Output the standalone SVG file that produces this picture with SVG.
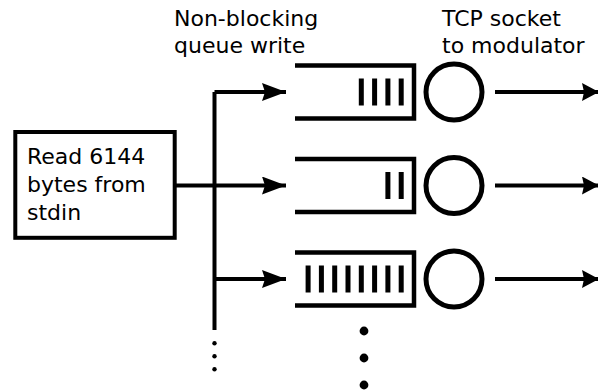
<svg xmlns="http://www.w3.org/2000/svg" width="598" height="392" viewBox="0 0 598 392">
  <style>
    .lbl { font-family: "DejaVu Sans", "Liberation Sans", sans-serif; font-size: 22px; fill: #000; }
    .box { fill: #fff; stroke: #000; stroke-width: 4; }
    .wire { fill: none; stroke: #000; stroke-width: 4; }
    .queue { fill: none; stroke: #000; stroke-width: 4.5; stroke-linejoin: miter; }
    .slot { fill: #000; }
    .sock { fill: #fff; stroke: #000; stroke-width: 5; }
    .dot { fill: #000; }
  </style>
  <defs>
    <marker id="head" markerUnits="userSpaceOnUse" markerWidth="26" markerHeight="20" refX="24" refY="9" orient="auto" viewBox="0 0 26 20">
      <path d="M0,0 L24,9 L0,18 L3,9 Z" fill="#000"/>
    </marker>
    <marker id="headOut" markerUnits="userSpaceOnUse" markerWidth="20" markerHeight="20" refX="17" refY="9" orient="auto" viewBox="0 0 20 20">
      <path d="M0,0 L17,9 L0,18 L2,9 Z" fill="#000"/>
    </marker>
  </defs>

  <!-- labels above the columns -->
  <g id="label-queue">
    <text class="lbl" x="174" y="26">Non-blocking</text>
    <text class="lbl" x="174" y="53">queue write</text>
  </g>
  <g id="label-socket">
    <text class="lbl" x="442" y="26">TCP socket</text>
    <text class="lbl" x="442" y="53">to modulator</text>
  </g>

  <!-- reader -->
  <g id="reader">
    <rect class="box" x="15.3" y="132" width="159.4" height="105.8"/>
    <text class="lbl" x="27" y="163.5">Read 6144</text>
    <text class="lbl" x="27" y="191.5">bytes from</text>
    <text class="lbl" x="27" y="219.5">stdin</text>
  </g>

  <!-- connectors -->
  <g id="connectors">
    <path class="wire" d="M174.7,185.5 H214.5"/>
    <path class="wire" d="M214.5,92 V330"/>
    <path class="wire" d="M214.5,92 H286" marker-end="url(#head)"/>
    <path class="wire" d="M214.5,185.5 H286" marker-end="url(#head)"/>
    <path class="wire" d="M214.5,279 H286" marker-end="url(#head)"/>
    <path class="wire" d="M495,92 H599" marker-end="url(#headOut)"/>
    <path class="wire" d="M495,185.5 H599" marker-end="url(#headOut)"/>
    <path class="wire" d="M495,279 H599" marker-end="url(#headOut)"/>
    <circle class="dot" cx="214.5" cy="343.3" r="2.2"/>
    <circle class="dot" cx="214.5" cy="356.3" r="2.2"/>
    <circle class="dot" cx="214.5" cy="369.3" r="2.2"/>
  </g>

  <!-- queue 1 with socket -->
  <g id="queue-1">
    <path class="queue" d="M295,65.5 H414 V118.5 H295"/>
    <rect class="slot" x="358.8" y="78.5" width="5" height="27"/>
    <rect class="slot" x="372.1" y="78.5" width="5" height="27"/>
    <rect class="slot" x="385.4" y="78.5" width="5" height="27"/>
    <rect class="slot" x="398.7" y="78.5" width="5" height="27"/>
  </g>
  <g id="socket-1">
    <circle class="sock" cx="454" cy="92" r="28"/>
  </g>

  <!-- queue 2 with socket -->
  <g id="queue-2">
    <path class="queue" d="M295,159 H414 V212 H295"/>
    <rect class="slot" x="385.4" y="172" width="5" height="27"/>
    <rect class="slot" x="398.7" y="172" width="5" height="27"/>
  </g>
  <g id="socket-2">
    <circle class="sock" cx="454" cy="185.5" r="28"/>
  </g>

  <!-- queue 3 with socket -->
  <g id="queue-3">
    <path class="queue" d="M295,252.5 H414 V305.5 H295"/>
    <rect class="slot" x="305.6" y="265.5" width="5" height="27"/>
    <rect class="slot" x="318.9" y="265.5" width="5" height="27"/>
    <rect class="slot" x="332.2" y="265.5" width="5" height="27"/>
    <rect class="slot" x="345.5" y="265.5" width="5" height="27"/>
    <rect class="slot" x="358.8" y="265.5" width="5" height="27"/>
    <rect class="slot" x="372.1" y="265.5" width="5" height="27"/>
    <rect class="slot" x="385.4" y="265.5" width="5" height="27"/>
    <rect class="slot" x="398.7" y="265.5" width="5" height="27"/>
  </g>
  <g id="socket-3">
    <circle class="sock" cx="454" cy="279" r="28"/>
  </g>

  <!-- more queues below -->
  <g id="more-queues">
    <circle class="dot" cx="364" cy="331" r="4.4"/>
    <circle class="dot" cx="364" cy="358" r="4.4"/>
    <circle class="dot" cx="364" cy="385" r="4.4"/>
  </g>
</svg>
